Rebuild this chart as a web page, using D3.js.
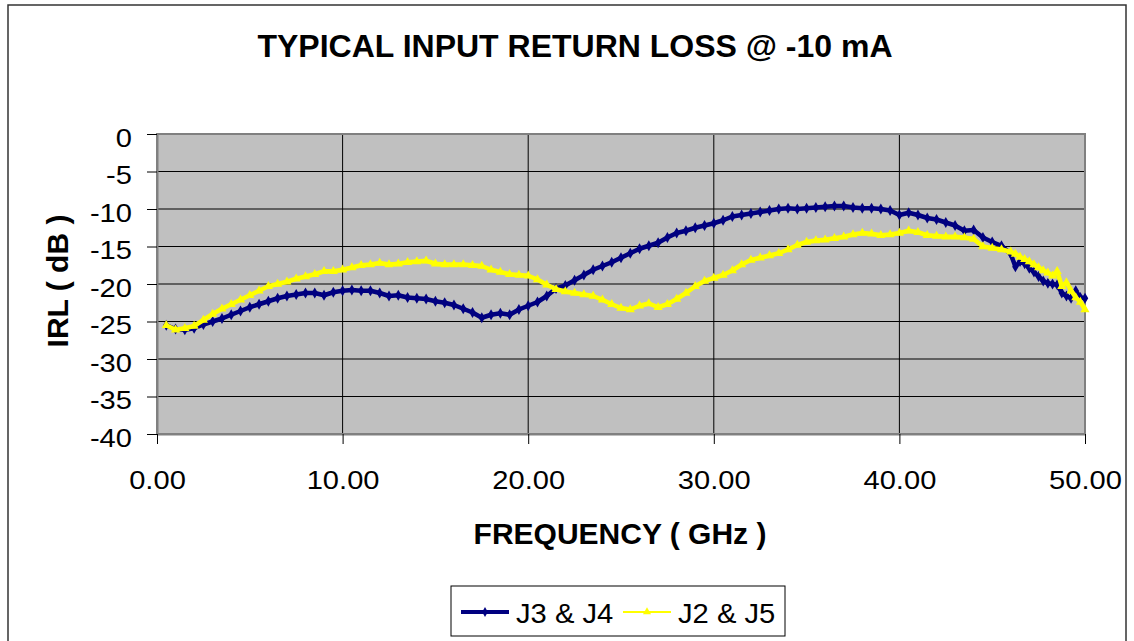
<!DOCTYPE html>
<html>
<head>
<meta charset="utf-8">
<script src="https://cdn.jsdelivr.net/npm/d3@7"></script>
<style>
  body { margin: 0; background: #fff; }
  text { font-family: "Liberation Sans", Arial, sans-serif; }
</style>
</head>
<body>
<div id="chart"></div>
<script>
// frequency points (GHz)
var freq = [
  0.5,1,1.5,2,2.5,3,3.5,4,4.5,5,
  5.5,6,6.5,7,7.5,8,8.5,9,9.5,10,
  10.5,11,11.5,12,12.5,13,13.5,14,14.5,15,
  15.5,16,16.5,17,17.5,18,18.5,19,19.5,20,
  20.5,21,21.5,22,22.5,23,23.5,24,24.5,25,
  25.5,26,26.5,27,27.5,28,28.5,29,29.5,30,
  30.5,31,31.5,32,32.5,33,33.5,34,34.5,35,
  35.5,36,36.5,37,37.5,38,38.5,39,39.5,40,
  40.5,41,41.5,42,42.5,43,43.5,44,44.5,45,
  45.5,46,46.25,46.5,46.75,47,47.25,47.5,47.75,48,
  48.25,48.5,48.75,49,49.25,49.5,49.75,50
];
// J3 & J4 (dB)
var irlJ34 = [
  -25.5,-26.0,-26.1,-25.9,-25.4,-25.0,-24.6,-24.1,-23.6,-23.1,
  -22.7,-22.3,-21.9,-21.6,-21.4,-21.2,-21.2,-21.5,-21.1,-20.9,
  -20.8,-20.9,-20.9,-21.2,-21.6,-21.5,-21.8,-21.9,-22.0,-22.3,
  -22.5,-22.8,-23.3,-23.8,-24.5,-24.1,-23.9,-24.1,-23.4,-22.9,
  -22.4,-21.6,-20.6,-20.2,-19.5,-18.8,-18.1,-17.6,-17.1,-16.5,
  -15.9,-15.3,-14.9,-14.5,-13.8,-13.2,-12.9,-12.5,-12.2,-11.9,
  -11.5,-11.0,-10.8,-10.6,-10.4,-10.2,-10.0,-9.9,-10.0,-9.9,
  -9.8,-9.7,-9.6,-9.6,-9.8,-9.9,-9.9,-10.0,-10.2,-10.8,
  -10.5,-10.8,-11.2,-11.4,-11.8,-12.2,-12.9,-12.8,-13.8,-14.4,
  -14.9,-16.0,-17.7,-17.0,-17.3,-17.9,-18.4,-19.0,-19.6,-19.9,
  -20.0,-20.1,-21.2,-21.6,-21.9,-20.9,-21.8,-21.9
];
// J2 & J5 (dB)
var irlJ25 = [
  -25.5,-26.1,-25.9,-25.6,-24.8,-24.0,-23.3,-22.7,-22.1,-21.5,
  -20.9,-20.3,-20.0,-19.7,-19.3,-19.0,-18.7,-18.3,-18.3,-18.1,
  -17.8,-17.5,-17.4,-17.2,-17.4,-17.3,-17.1,-17.0,-16.9,-17.3,
  -17.4,-17.4,-17.4,-17.5,-17.6,-18.1,-18.4,-18.7,-18.8,-18.9,
  -19.4,-20.1,-20.7,-21.0,-21.2,-21.4,-21.6,-22.1,-22.7,-23.2,
  -23.4,-22.9,-22.6,-23.1,-22.7,-22.0,-21.2,-20.3,-19.6,-19.2,
  -18.8,-18.2,-17.4,-16.8,-16.5,-16.2,-15.9,-15.4,-14.8,-14.4,
  -14.2,-14.1,-13.9,-13.7,-13.4,-13.2,-13.3,-13.5,-13.4,-13.2,
  -12.9,-13.1,-13.5,-13.6,-13.7,-13.7,-13.8,-14.0,-15.0,-15.2,
  -15.4,-15.7,-16.0,-16.4,-16.7,-17.0,-17.4,-17.8,-18.2,-18.5,
  -18.9,-18.3,-20.3,-19.8,-20.9,-21.8,-22.4,-23.4
];
var xTicks = [0, 10, 20, 30, 40, 50];
var yTicks = [0, -5, -10, -15, -20, -25, -30, -35, -40];
var seriesNames = ["J3 & J4", "J2 & J5"];

var W = 1134, H = 641;
var margin = {top: 134, left: 157, right: 49, bottom: 207};
var width = W - margin.left - margin.right,
    height = H - margin.top - margin.bottom;
var stretch = "scale(1.12,1)";

var svg = d3.select("#chart").append("svg")
  .attr("width", W).attr("height", H);

// outer chart frame
svg.append("rect")
  .attr("x", 8).attr("y", 5).attr("width", 1118).attr("height", 660)
  .attr("fill", "#fff").attr("stroke", "#333").attr("stroke-width", 1.5);

svg.append("text")
  .attr("x", 575).attr("y", 57)
  .attr("text-anchor", "middle")
  .style("font-size", "32px").style("font-weight", "bold")
  .text("TYPICAL INPUT RETURN LOSS @ -10 mA");

var g = svg.append("g")
  .attr("transform", "translate(" + margin.left + "," + margin.top + ")");

var x = d3.scaleLinear().domain([0, 50]).range([0, width]);
var y = d3.scaleLinear().domain([-40, 0]).range([height, 0]);

g.append("rect")
  .attr("width", width).attr("height", height)
  .attr("fill", "#c0c0c0");

// grid
g.append("g").selectAll("line").data(yTicks.filter(function(d){ return d > -40 && d < 0; }))
  .enter().append("line")
  .attr("x1", 0).attr("x2", width)
  .attr("y1", function(d){ return y(d); }).attr("y2", function(d){ return y(d); })
  .attr("stroke", "#000").attr("stroke-width", 1);
g.append("g").selectAll("line").data(xTicks.filter(function(d){ return d > 0 && d < 50; }))
  .enter().append("line")
  .attr("y1", 0).attr("y2", height)
  .attr("x1", function(d){ return x(d); }).attr("x2", function(d){ return x(d); })
  .attr("stroke", "#000").attr("stroke-width", 1);

g.append("rect")
  .attr("width", width).attr("height", height)
  .attr("fill", "none").attr("stroke", "#808080").attr("stroke-width", 2);

// axes
var yAxis = g.append("g")
  .call(d3.axisLeft(y).tickValues(yTicks).tickSize(10).tickSizeOuter(0)
    .tickFormat(function(d){ return String(d); }));
yAxis.select(".domain").attr("stroke", "#808080").attr("stroke-width", 2);
yAxis.selectAll(".tick line").attr("stroke", "#000");
yAxis.selectAll("text")
  .style("font-size", "26px").attr("fill", "#000")
  .attr("x", -25 / 1.12).attr("dy", "0.48em")
  .attr("transform", stretch);

var xAxis = g.append("g")
  .attr("transform", "translate(0," + height + ")")
  .call(d3.axisBottom(x).tickValues(xTicks).tickSize(10).tickSizeOuter(0)
    .tickFormat(function(d){ return d.toFixed(2); }));
xAxis.select(".domain").attr("stroke", "#808080").attr("stroke-width", 2);
xAxis.selectAll(".tick line").attr("stroke", "#000");
xAxis.selectAll("text")
  .style("font-size", "26px").attr("fill", "#000")
  .attr("y", 55).attr("dy", null)
  .attr("transform", stretch);

svg.append("text")
  .attr("x", 620).attr("y", 544)
  .attr("text-anchor", "middle")
  .style("font-size", "30px").style("font-weight", "bold")
  .text("FREQUENCY ( GHz )");

svg.append("text")
  .attr("transform", "translate(68,281) rotate(-90)")
  .attr("text-anchor", "middle")
  .style("font-size", "30px").style("font-weight", "bold")
  .text("IRL ( dB )");

// series
var line = d3.line()
  .x(function(d){ return x(d[0]); })
  .y(function(d){ return y(d[1]); });

var series = [
  {name: seriesNames[0], values: irlJ34, color: "#000080", width: 4.5, sym: d3.symbolDiamond, size: 36},
  {name: seriesNames[1], values: irlJ25, color: "#ffff00", width: 4.5, sym: d3.symbolTriangle, size: 36}
];

series.forEach(function(s) {
  var pts = freq.map(function(f, i){ return [f, s.values[i]]; });
  g.append("path")
    .datum(pts)
    .attr("fill", "none")
    .attr("stroke", s.color)
    .attr("stroke-width", s.width)
    .attr("stroke-linejoin", "round")
    .attr("d", line);
  g.append("g").selectAll("path")
    .data(pts).enter().append("path")
    .attr("transform", function(d){ return "translate(" + x(d[0]) + "," + y(d[1]) + ")"; })
    .attr("d", d3.symbol().type(s.sym).size(s.size))
    .attr("fill", s.color);
});

// legend
var legend = svg.append("g");
legend.append("rect")
  .attr("x", 451).attr("y", 586).attr("width", 334).attr("height", 50)
  .attr("fill", "#fff").attr("stroke", "#000").attr("stroke-width", 1);
var legItems = [
  {x: 461, tx: 516, s: series[0]},
  {x: 623, tx: 678, s: series[1]}
];
legItems.forEach(function(it) {
  legend.append("line")
    .attr("x1", it.x).attr("x2", it.x + 48).attr("y1", 612).attr("y2", 612)
    .attr("stroke", it.s.color).attr("stroke-width", it.s === series[0] ? 4 : 2);
  legend.append("path")
    .attr("transform", "translate(" + (it.x + 24) + ",612)")
    .attr("d", d3.symbol().type(it.s.sym).size(28))
    .attr("fill", it.s.color);
  legend.append("text")
    .attr("transform", "translate(" + it.tx + ",623) scale(1.08,1)")
    .style("font-size", "27px")
    .text(it.s.name);
});
</script>
</body>
</html>
